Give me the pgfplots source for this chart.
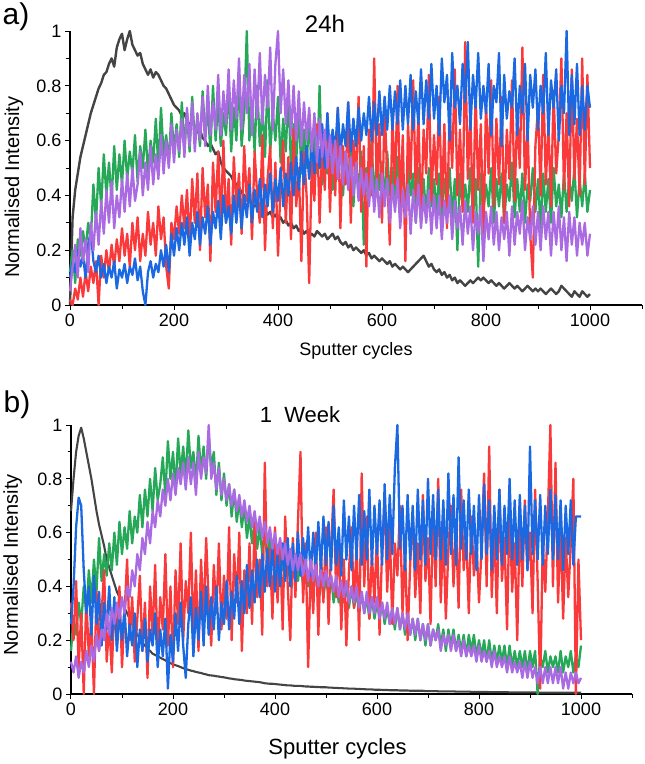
\documentclass[border=0pt]{standalone}
\usepackage{fontspec}
\setmainfont{Liberation Sans}
\usepackage{pgfplots}
\usepackage{pgfplotstable}
\pgfplotsset{compat=1.18}

\definecolor{cK}{RGB}{68,68,68}
\definecolor{cG}{RGB}{38,168,88}
\definecolor{cR}{RGB}{250,58,58}
\definecolor{cB}{RGB}{26,104,226}
\definecolor{cP}{RGB}{170,106,226}

% 24 h depth profiles: x = sputter cycle, k/g/r/b/p = normalised intensities
\pgfplotstableread{
x k g r b p
0 0.00 0.12 0.02 0.10 0.05
5 0.32 0.20 0.00 0.16 0.14
10 0.42 0.08 0.06 0.12 0.22
15 0.48 0.24 0.02 0.20 0.10
20 0.54 0.18 0.10 0.14 0.28
25 0.58 0.27 0.03 0.18 0.16
30 0.62 0.20 0.12 0.10 0.24
35 0.66 0.30 0.05 0.22 0.12
40 0.70 0.24 0.14 0.27 0.30
45 0.73 0.44 0.08 0.16 0.20
50 0.76 0.30 0.16 0.12 0.34
55 0.79 0.50 0.00 0.18 0.22
60 0.81 0.36 0.18 0.10 0.38
65 0.84 0.55 0.10 0.15 0.26
70 0.85 0.40 0.20 0.08 0.42
75 0.88 0.52 0.12 0.14 0.30
80 0.90 0.38 0.22 0.10 0.45
85 0.87 0.58 0.14 0.16 0.28
90 0.94 0.42 0.24 0.06 0.40
95 0.97 0.55 0.16 0.13 0.32
100 0.99 0.44 0.28 0.10 0.46
105 0.93 0.60 0.18 0.15 0.34
110 0.97 0.46 0.26 0.08 0.48
115 1.00 0.56 0.14 0.14 0.36
120 0.95 0.48 0.30 0.11 0.50
125 0.93 0.62 0.20 0.17 0.38
130 0.91 0.45 0.32 0.09 0.44
135 0.92 0.58 0.16 0.14 0.56
140 0.88 0.50 0.26 0.05 0.40
145 0.86 0.64 0.18 0.00 0.52
150 0.84 0.48 0.34 0.12 0.42
155 0.86 0.60 0.22 0.16 0.58
160 0.83 0.52 0.30 0.10 0.44
165 0.85 0.68 0.18 0.15 0.55
170 0.84 0.50 0.36 0.12 0.46
175 0.82 0.72 0.24 0.20 0.62
180 0.80 0.55 0.32 0.14 0.48
185 0.79 0.62 0.14 0.22 0.60
190 0.77 0.52 0.06 0.12 0.50
195 0.75 0.70 0.30 0.26 0.66
200 0.73 0.56 0.24 0.18 0.52
205 0.72 0.66 0.36 0.28 0.64
210 0.71 0.54 0.26 0.20 0.56
215 0.69 0.74 0.40 0.30 0.68
220 0.70 0.58 0.28 0.22 0.54
225 0.67 0.70 0.42 0.32 0.72
230 0.66 0.56 0.22 0.18 0.58
235 0.67 0.76 0.46 0.30 0.74
240 0.65 0.60 0.30 0.24 0.56
245 0.63 0.68 0.48 0.34 0.70
250 0.64 0.58 0.20 0.22 0.60
255 0.61 0.78 0.50 0.32 0.76
260 0.60 0.62 0.32 0.26 0.58
265 0.58 0.72 0.44 0.36 0.80
270 0.59 0.56 0.16 0.22 0.62
275 0.57 0.80 0.52 0.34 0.74
280 0.55 0.60 0.34 0.28 0.64
285 0.56 0.74 0.56 0.38 0.84
290 0.52 0.58 0.28 0.24 0.62
295 0.50 0.70 0.60 0.40 0.78
300 0.49 0.62 0.30 0.30 0.66
305 0.48 0.80 0.46 0.36 0.86
310 0.47 0.56 0.22 0.26 0.64
315 0.45 0.72 0.54 0.40 0.82
320 0.44 0.60 0.36 0.30 0.68
325 0.43 0.84 0.48 0.42 0.90
330 0.41 0.58 0.26 0.28 0.64
335 0.40 0.70 0.58 0.40 0.84
340 0.39 1.00 0.38 0.32 0.70
345 0.38 0.60 0.50 0.44 0.88
350 0.37 0.74 0.24 0.30 0.62
355 0.36 0.56 0.56 0.42 0.86
360 0.37 0.80 0.40 0.34 0.68
365 0.35 0.58 0.30 0.46 0.92
370 0.34 0.72 0.62 0.32 0.66
375 0.35 0.54 0.20 0.44 0.84
380 0.33 0.82 0.46 0.36 0.72
385 0.34 0.56 0.58 0.48 0.94
390 0.32 0.70 0.28 0.34 0.64
395 0.33 0.60 0.52 0.46 0.88
400 0.31 0.76 0.18 0.38 1.00
405 0.32 0.52 0.44 0.50 0.70
410 0.30 0.68 0.60 0.36 0.86
415 0.31 0.56 0.30 0.48 0.66
420 0.29 0.78 0.54 0.40 0.82
425 0.30 0.50 0.24 0.52 0.62
430 0.28 0.66 0.64 0.40 0.80
435 0.29 0.52 0.36 0.54 0.60
440 0.27 0.72 0.50 0.42 0.78
445 0.28 0.48 0.16 0.56 0.58
450 0.26 0.64 0.56 0.44 0.74
455 0.27 0.50 0.40 0.58 0.60
460 0.25 0.70 0.08 0.46 0.72
465 0.26 0.46 0.52 0.60 0.56
470 0.25 0.62 0.38 0.48 0.70
475 0.27 0.48 0.66 0.62 0.52
480 0.26 0.80 0.30 0.50 0.68
485 0.25 0.44 0.58 0.66 0.54
490 0.26 0.62 0.42 0.50 0.64
495 0.24 0.48 0.70 0.70 0.50
500 0.25 0.58 0.34 0.54 0.62
505 0.26 0.42 0.62 0.64 0.48
510 0.24 0.60 0.40 0.56 0.60
515 0.25 0.46 0.72 0.72 0.46
520 0.23 0.62 0.28 0.54 0.58
525 0.22 0.40 0.58 0.66 0.44
530 0.23 0.56 0.44 0.58 0.56
535 0.21 0.44 0.74 0.74 0.42
540 0.22 0.58 0.30 0.56 0.54
545 0.20 0.36 0.60 0.68 0.40
550 0.21 0.54 0.46 0.58 0.52
555 0.20 0.40 0.76 0.72 0.38
560 0.19 0.56 0.34 0.60 0.50
565 0.20 0.22 0.58 0.70 0.40
570 0.18 0.50 0.14 0.62 0.48
575 0.19 0.42 0.64 0.76 0.36
580 0.17 0.60 0.40 0.60 0.50
585 0.18 0.38 0.90 0.74 0.34
590 0.17 0.54 0.42 0.62 0.46
595 0.16 0.42 0.66 0.78 0.32
600 0.17 0.52 0.30 0.62 0.48
605 0.16 0.38 0.72 0.76 0.36
610 0.15 0.56 0.48 0.64 0.46
615 0.16 0.40 0.22 0.80 0.30
620 0.14 0.50 0.68 0.64 0.44
625 0.15 0.36 0.44 0.78 0.34
630 0.14 0.54 0.80 0.66 0.46
635 0.13 0.42 0.36 0.82 0.28
640 0.14 0.48 0.62 0.64 0.42
645 0.13 0.34 0.16 0.80 0.32
650 0.12 0.52 0.66 0.66 0.44
655 0.13 0.40 0.46 0.84 0.26
660 0.14 0.48 0.82 0.64 0.42
665 0.15 0.30 0.40 0.78 0.30
670 0.16 0.50 0.70 0.66 0.44
675 0.17 0.38 0.30 0.86 0.28
680 0.18 0.46 0.64 0.66 0.40
685 0.16 0.32 0.48 0.82 0.30
690 0.14 0.50 0.84 0.68 0.42
695 0.15 0.36 0.38 0.88 0.26
700 0.13 0.46 0.62 0.68 0.40
705 0.12 0.34 0.44 0.80 0.28
710 0.13 0.48 0.76 0.62 0.40
715 0.11 0.30 0.36 0.90 0.24
720 0.12 0.46 0.66 0.74 0.38
725 0.10 0.38 0.28 0.84 0.30
730 0.11 0.50 0.72 0.60 0.40
735 0.09 0.32 0.50 0.92 0.24
740 0.10 0.46 0.86 0.72 0.38
745 0.08 0.20 0.40 0.80 0.28
750 0.09 0.48 0.64 0.66 0.36
755 0.08 0.36 0.34 0.88 0.22
760 0.07 0.44 0.96 0.74 0.38
765 0.08 0.34 0.46 0.96 0.26
770 0.09 0.50 0.70 0.64 0.36
775 0.08 0.32 0.30 0.84 0.20
780 0.09 0.46 0.78 0.72 0.34
785 0.10 0.14 0.42 0.92 0.26
790 0.09 0.48 0.66 0.68 0.36
795 0.10 0.34 0.24 0.80 0.16
800 0.09 0.44 0.74 0.70 0.34
805 0.08 0.36 0.48 0.88 0.24
810 0.09 0.50 0.82 0.62 0.36
815 0.08 0.30 0.36 0.80 0.22
820 0.07 0.46 0.68 0.74 0.34
825 0.08 0.36 0.44 0.92 0.20
830 0.07 0.48 0.76 0.58 0.32
835 0.06 0.30 0.30 0.84 0.24
840 0.07 0.44 0.64 0.68 0.34
845 0.08 0.38 0.46 0.78 0.18
850 0.07 0.52 0.82 0.72 0.36
855 0.06 0.32 0.38 0.90 0.22
860 0.07 0.46 0.70 0.62 0.34
865 0.06 0.34 0.50 0.80 0.26
870 0.05 0.48 0.94 0.70 0.38
875 0.06 0.30 0.42 0.88 0.20
880 0.07 0.44 0.66 0.60 0.32
885 0.06 0.38 0.26 0.84 0.24
890 0.05 0.50 0.10 0.72 0.36
895 0.06 0.34 0.58 0.86 0.22
900 0.05 0.46 0.72 0.64 0.34
905 0.06 0.28 0.40 0.80 0.20
910 0.05 0.48 0.84 0.70 0.36
915 0.04 0.34 0.44 0.92 0.24
920 0.05 0.46 0.66 0.62 0.34
925 0.06 0.30 0.36 0.82 0.18
930 0.05 0.50 0.78 0.72 0.34
935 0.04 0.36 0.48 0.86 0.22
940 0.05 0.44 0.62 0.60 0.36
945 0.07 0.32 0.90 0.80 0.20
950 0.06 0.48 0.42 0.70 0.32
955 0.05 0.34 0.70 1.00 0.16
960 0.04 0.46 0.36 0.62 0.34
965 0.03 0.38 0.86 0.84 0.22
970 0.05 0.50 0.46 0.66 0.32
975 0.04 0.32 0.68 0.88 0.18
980 0.03 0.46 0.40 0.62 0.30
985 0.05 0.36 0.90 0.80 0.22
990 0.04 0.48 0.44 0.64 0.30
995 0.03 0.34 0.84 0.80 0.18
1000 0.04 0.42 0.50 0.72 0.26
}\tabA

% 1 week depth profiles
\pgfplotstableread{
x k g r b p
0 0.68 0.16 0.34 0.26 0.12
5 0.80 0.28 0.20 0.40 0.08
10 0.90 0.22 0.42 0.62 0.14
15 0.96 0.34 0.10 0.73 0.06
20 0.99 0.26 0.30 0.70 0.12
25 0.95 0.40 0.00 0.46 0.08
30 0.90 0.30 0.36 0.30 0.16
35 0.85 0.46 0.14 0.40 0.10
40 0.80 0.34 0.28 0.22 0.18
45 0.74 0.50 0.00 0.44 0.12
50 0.68 0.38 0.38 0.26 0.22
55 0.63 0.58 0.16 0.38 0.16
60 0.59 0.42 0.30 0.18 0.24
65 0.55 0.52 0.46 0.34 0.20
70 0.50 0.44 0.12 0.24 0.30
75 0.47 0.56 0.26 0.40 0.22
80 0.44 0.46 0.08 0.20 0.32
85 0.41 0.60 0.34 0.36 0.26
90 0.38 0.48 0.18 0.16 0.34
95 0.36 0.64 0.40 0.30 0.28
100 0.34 0.52 0.10 0.20 0.36
105 0.32 0.62 0.30 0.32 0.30
110 0.30 0.54 0.50 0.14 0.40
115 0.28 0.68 0.20 0.26 0.36
120 0.26 0.56 0.36 0.18 0.46
125 0.24 0.66 0.12 0.30 0.40
130 0.22 0.60 0.28 0.10 0.52
135 0.21 0.74 0.44 0.24 0.46
140 0.19 0.62 0.16 0.16 0.58
145 0.18 0.76 0.34 0.28 0.52
150 0.17 0.66 0.06 0.12 0.64
155 0.16 0.80 0.40 0.24 0.56
160 0.15 0.68 0.22 0.18 0.68
165 0.145 0.84 0.48 0.30 0.62
170 0.14 0.72 0.14 0.10 0.72
175 0.135 0.78 0.36 0.24 0.66
180 0.13 0.88 0.24 0.14 0.76
185 0.125 0.74 0.52 0.28 0.70
190 0.12 0.94 0.18 0.02 0.80
195 0.115 0.80 0.40 0.22 0.72
200 0.11 0.90 0.10 0.12 0.82
205 0.107 0.76 0.46 0.30 0.74
210 0.104 0.95 0.26 0.16 0.84
215 0.10 0.82 0.56 0.34 0.78
220 0.096 0.92 0.20 0.18 0.86
225 0.093 0.80 0.42 0.06 0.76
230 0.09 0.98 0.30 0.26 0.88
235 0.087 0.84 0.60 0.36 0.78
240 0.085 0.90 0.22 0.14 0.86
245 0.082 0.78 0.46 0.32 0.74
250 0.08 0.96 0.16 0.20 0.90
255 0.078 0.82 0.50 0.38 0.80
260 0.075 0.92 0.28 0.18 0.88
265 0.073 0.80 0.58 0.40 0.82
270 0.07 0.96 0.34 0.22 1.00
275 0.069 0.84 0.18 0.36 0.80
280 0.068 0.90 0.48 0.24 0.86
285 0.066 0.74 0.30 0.40 0.76
290 0.065 0.86 0.56 0.20 0.84
295 0.063 0.72 0.24 0.34 0.74
300 0.062 0.82 0.44 0.26 0.80
305 0.06 0.70 0.28 0.42 0.72
310 0.058 0.78 0.62 0.24 0.78
315 0.057 0.66 0.20 0.38 0.70
320 0.055 0.76 0.52 0.28 0.76
325 0.054 0.64 0.34 0.44 0.68
330 0.053 0.72 0.60 0.26 0.74
335 0.052 0.62 0.16 0.42 0.66
340 0.05 0.70 0.46 0.30 0.72
345 0.049 0.58 0.30 0.48 0.64
350 0.048 0.66 0.56 0.32 0.70
355 0.047 0.56 0.26 0.46 0.62
360 0.046 0.64 0.64 0.34 0.68
365 0.045 0.54 0.36 0.50 0.60
370 0.044 0.62 0.50 0.36 0.66
375 0.042 0.52 0.22 0.52 0.58
380 0.04 0.60 0.86 0.38 0.64
385 0.039 0.50 0.40 0.54 0.56
390 0.038 0.58 0.54 0.40 0.62
395 0.038 0.48 0.28 0.56 0.54
400 0.037 0.56 0.62 0.38 0.60
405 0.036 0.48 0.34 0.52 0.52
410 0.035 0.54 0.56 0.40 0.58
415 0.034 0.46 0.24 0.56 0.50
420 0.033 0.54 0.66 0.42 0.56
425 0.032 0.44 0.40 0.58 0.48
430 0.032 0.52 0.20 0.40 0.54
435 0.031 0.44 0.58 0.56 0.46
440 0.03 0.50 0.36 0.42 0.52
445 0.03 0.42 0.64 0.60 0.46
450 0.03 0.50 0.90 0.44 0.52
455 0.029 0.40 0.34 0.58 0.44
460 0.028 0.48 0.56 0.46 0.50
465 0.028 0.40 0.10 0.62 0.42
470 0.027 0.46 0.48 0.44 0.50
475 0.027 0.38 0.30 0.60 0.42
480 0.026 0.46 0.60 0.46 0.48
485 0.026 0.38 0.22 0.64 0.40
490 0.025 0.44 0.52 0.46 0.46
495 0.025 0.36 0.34 0.66 0.40
500 0.025 0.44 0.62 0.48 0.46
505 0.024 0.36 0.26 0.64 0.40
510 0.024 0.44 0.54 0.46 0.44
515 0.023 0.34 0.76 0.70 0.38
520 0.023 0.42 0.36 0.48 0.44
525 0.022 0.34 0.58 0.62 0.36
530 0.022 0.42 0.24 0.44 0.42
535 0.021 0.34 0.50 0.72 0.36
540 0.021 0.40 0.18 0.50 0.42
545 0.02 0.32 0.46 0.66 0.34
550 0.02 0.40 0.62 0.46 0.40
555 0.02 0.32 0.32 0.70 0.34
560 0.019 0.38 0.56 0.50 0.40
565 0.019 0.30 0.20 0.74 0.32
570 0.018 0.38 0.82 0.48 0.38
575 0.018 0.30 0.40 0.68 0.30
580 0.017 0.36 0.66 0.50 0.38
585 0.017 0.28 0.28 0.76 0.30
590 0.017 0.36 0.52 0.48 0.36
595 0.016 0.28 0.34 0.70 0.30
600 0.016 0.34 0.60 0.52 0.36
605 0.016 0.28 0.22 0.72 0.28
610 0.015 0.34 0.54 0.48 0.34
615 0.015 0.26 0.72 0.78 0.28
620 0.015 0.32 0.38 0.50 0.34
625 0.014 0.26 0.62 0.74 0.26
630 0.014 0.32 0.26 0.52 0.32
635 0.014 0.24 0.56 0.84 0.26
640 0.014 0.32 0.44 1.00 0.32
645 0.013 0.24 0.70 0.54 0.24
650 0.013 0.30 0.30 0.70 0.30
655 0.013 0.22 0.54 0.46 0.24
660 0.013 0.30 0.20 0.74 0.30
665 0.012 0.22 0.48 0.50 0.22
670 0.012 0.28 0.68 0.70 0.28
675 0.012 0.20 0.36 0.46 0.22
680 0.012 0.28 0.56 0.76 0.28
685 0.012 0.20 0.30 0.50 0.20
690 0.012 0.26 0.74 0.72 0.26
695 0.011 0.18 0.42 0.48 0.20
700 0.011 0.26 0.58 0.80 0.26
705 0.011 0.18 0.26 0.52 0.18
710 0.011 0.24 0.68 0.74 0.24
715 0.011 0.20 0.40 0.50 0.20
720 0.01 0.26 0.80 0.76 0.24
725 0.01 0.18 0.34 0.50 0.16
730 0.01 0.24 0.60 0.72 0.22
735 0.01 0.16 0.28 0.48 0.18
740 0.01 0.24 0.54 0.82 0.22
745 0.01 0.18 0.70 0.52 0.16
750 0.01 0.24 0.40 0.74 0.22
755 0.009 0.16 0.62 0.48 0.16
760 0.009 0.22 0.32 0.88 0.20
765 0.009 0.16 0.76 0.54 0.14
770 0.009 0.22 0.46 0.72 0.20
775 0.009 0.14 0.60 0.50 0.14
780 0.009 0.22 0.30 0.76 0.18
785 0.008 0.16 0.66 0.52 0.14
790 0.008 0.22 0.44 0.70 0.18
795 0.008 0.14 0.58 0.46 0.12
800 0.008 0.20 0.34 0.74 0.18
805 0.008 0.14 0.54 0.50 0.12
810 0.008 0.20 0.82 0.78 0.16
815 0.008 0.12 0.40 0.52 0.12
820 0.007 0.20 0.92 0.72 0.16
825 0.007 0.12 0.36 0.46 0.10
830 0.007 0.18 0.62 0.70 0.16
835 0.007 0.12 0.30 0.50 0.10
840 0.007 0.18 0.76 0.76 0.14
845 0.007 0.12 0.42 0.48 0.10
850 0.007 0.18 0.58 0.70 0.14
855 0.007 0.10 0.24 0.52 0.08
860 0.006 0.18 0.70 0.80 0.14
865 0.006 0.10 0.38 0.50 0.08
870 0.006 0.16 0.56 0.72 0.12
875 0.006 0.10 0.20 0.48 0.08
880 0.006 0.16 0.66 0.74 0.12
885 0.006 0.10 0.40 0.50 0.06
890 0.006 0.16 0.72 0.70 0.12
895 0.006 0.08 0.46 0.46 0.06
900 0.006 0.16 0.60 0.92 0.12
905 0.006 0.10 0.30 0.52 0.06
910 0.006 0.16 0.76 0.72 0.10
915 0.005 0.00 0.42 0.50 0.04
920 0.005 0.14 0.02 0.74 0.10
925 0.005 0.10 0.56 0.48 0.04
930 0.005 0.16 0.38 0.70 0.10
935 0.005 0.08 0.66 0.52 0.04
940 0.005 0.14 1.00 0.76 0.10
945 0.005 0.10 0.40 0.50 0.04
950 0.005 0.14 0.86 0.74 0.10
955 0.005 0.08 0.34 0.50 0.04
960 0.005 0.16 0.62 0.72 0.10
965 0.005 0.08 0.28 0.46 0.02
970 0.005 0.14 0.58 0.70 0.08
975 0.005 0.10 0.36 0.52 0.02
980 0.005 0.16 0.56 0.72 0.08
985 0.005 0.08 0.80 0.48 0.04
990 0.005 0.14 0.00 0.66 0.08
995 0.005 0.10 0.50 0.66 0.04
1000 0.005 0.18 0.20 0.66 0.06
}\tabB

\pgfplotsset{
  panel/.style={
    scale only axis,
    xmin=0, xmax=1100, ymin=0, ymax=1,
    axis x line=bottom, axis y line=left,
    axis line style={-, line width=1.1pt, black},
    xtick={0,200,400,600,800,1000},
    minor xtick={100,300,500,700,900,1100},
    ytick={0,0.2,0.4,0.6,0.8,1},
    minor ytick={0.1,0.3,0.5,0.7,0.9},
    tick align=outside,
    major tick length=5pt, minor tick length=3.5pt,
    every tick/.style={line width=1pt, black},
    tick label style={font=\fontsize{18}{18}\selectfont},
    /pgf/number format/assume math mode=true,
    /pgf/number format/1000 sep={},
    clip=false,
    no markers,
    every axis plot/.append style={line join=round},
  },
}

\begin{document}
\begin{tikzpicture}
\useasboundingbox (0pt,0pt) rectangle (645pt,-764pt);

\begin{axis}[panel,
  at={(70pt,-305pt)}, anchor=south west,
  width=572pt, height=274pt,
  xlabel={Sputter cycles},
  xlabel style={font=\fontsize{18}{18}\selectfont,
    at={(axis description cs:0.5,-0.168)}, anchor=center},
  ylabel={Normalised Intensity},
  ylabel style={font=\fontsize{20}{20}\selectfont,
    at={(axis description cs:-0.098,0.43)}, anchor=center},
]
\addplot[cK, line width=2.4pt] table[x=x, y=k] {\tabA};
\addplot[cG, line width=2.3pt] table[x=x, y=g] {\tabA};
\addplot[cR, line width=2.3pt] table[x=x, y=r] {\tabA};
\addplot[cB, line width=2.3pt] table[x=x, y=b] {\tabA};
\addplot[cP, line width=2.3pt] table[x=x, y=p] {\tabA};
\end{axis}

\begin{axis}[panel,
  at={(71pt,-694pt)}, anchor=south west,
  width=561pt, height=269pt,
  xlabel={Sputter cycles},
  xlabel style={font=\fontsize{22}{22}\selectfont,
    at={(axis description cs:0.475,-0.204)}, anchor=center},
  ylabel={Normalised Intensity},
  ylabel style={font=\fontsize{20}{20}\selectfont,
    at={(axis description cs:-0.104,0.48)}, anchor=center},
]
\addplot[cK, line width=2.1pt] table[x=x, y=k] {\tabB};
\addplot[cG, line width=2.3pt] table[x=x, y=g] {\tabB};
\addplot[cR, line width=2.3pt] table[x=x, y=r] {\tabB};
\addplot[cB, line width=2.3pt] table[x=x, y=b] {\tabB};
\addplot[cP, line width=2.3pt] table[x=x, y=p] {\tabB};
\end{axis}

\node[font=\fontsize{30}{30}\selectfont] at (16pt,-17pt) {a)};
\node[font=\fontsize{24}{24}\selectfont] at (325pt,-24pt) {24h};
\node[font=\fontsize{30}{30}\selectfont] at (17pt,-405pt) {b)};
\node[font=\fontsize{22}{22}\selectfont] at (300pt,-415pt) {1\ \ Week};
\end{tikzpicture}
\end{document}
